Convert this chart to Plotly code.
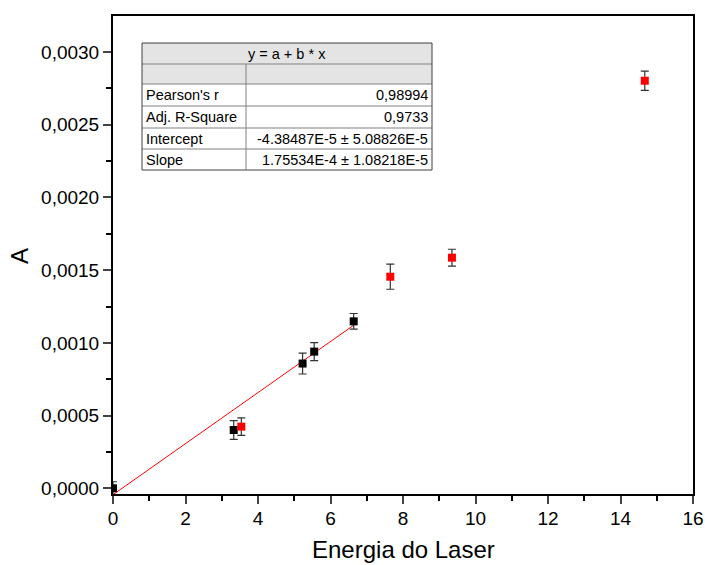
import plotly.graph_objects as go

# ---- data ----
x_black = [0.0, 3.33, 5.23, 5.55, 6.64]
y_black = [0.0000, 0.000401, 0.000858, 0.000940, 0.001148]
e_black = [0.000045, 0.000064, 0.000072, 0.000062, 0.000054]

x_red = [3.54, 7.65, 9.35, 14.67]
y_red = [0.000424, 0.001455, 0.001586, 0.002803]
e_red = [0.000060, 0.000086, 0.000058, 0.000066]

fit_intercept = -4.38487e-5
fit_slope = 1.75534e-4

x_title = "Energia do Laser"
y_title = "A"
table_title = "y = a + b * x"
table_labels = ["Pearson's r", "Adj. R-Square", "Intercept", "Slope"]
table_values = ["0,98994", "0,9733", "-4.38487E-5 ± 5.08826E-5", "1.75534E-4 ± 1.08218E-5"]

x_ticks = list(range(0, 17, 2))
y_ticks = [0.0, 0.0005, 0.0010, 0.0015, 0.0020, 0.0025, 0.0030]

FONT = "Liberation Sans, Arial, sans-serif"

fig = go.Figure()

# fit line over the range of the fitted (black) points
fx = [min(x_black), max(x_black)]
fy = [fit_intercept + fit_slope * v for v in fx]
fig.add_trace(go.Scatter(x=fx, y=fy, mode="lines",
                         line=dict(color="#ff0000", width=1), showlegend=False,
                         hoverinfo="skip"))

err_style = dict(type="data", thickness=1.2, width=4, color="#333333")
fig.add_trace(go.Scatter(x=x_black, y=y_black, mode="markers",
                         marker=dict(symbol="square", size=8, color="black"),
                         error_y=dict(array=e_black, **err_style), showlegend=False))
fig.add_trace(go.Scatter(x=x_red, y=y_red, mode="markers",
                         marker=dict(symbol="square", size=8, color="#ff0000"),
                         error_y=dict(array=e_red, **err_style), showlegend=False))

# ---- layout geometry ----
L, R, T, B = 113, 12, 16, 71
W, H = 705, 565
pw, ph = W - L - R, H - T - B

def px(x):
    return (x - L) / pw

def py(y):
    return (H - B - y) / ph

shapes = []
annotations = []

tx0, tx1, tcol = 142, 432, 246
rows_y = [43, 64, 84, 106, 128, 149, 170]
grey = "#e4e4e4"
border = "#808080"

shapes.append(dict(type="rect", xref="paper", yref="paper",
                   x0=px(tx0), x1=px(tx1), y0=py(rows_y[2]), y1=py(rows_y[0]),
                   fillcolor=grey, line=dict(width=0), layer="above"))
shapes.append(dict(type="rect", xref="paper", yref="paper",
                   x0=px(tx0), x1=px(tx1), y0=py(rows_y[-1]), y1=py(rows_y[2]),
                   fillcolor="white", line=dict(width=0), layer="above"))
for i, yy in enumerate(rows_y):
    shapes.append(dict(type="line", xref="paper", yref="paper",
                       x0=px(tx0), x1=px(tx1), y0=py(yy), y1=py(yy),
                       line=dict(color=border if 0 < i < len(rows_y) - 1 else "#404040", width=1),
                       layer="above"))
for xx in [tx0, tx1]:
    shapes.append(dict(type="line", xref="paper", yref="paper",
                       x0=px(xx), x1=px(xx), y0=py(rows_y[-1]), y1=py(rows_y[0]),
                       line=dict(color="#404040", width=1), layer="above"))
shapes.append(dict(type="line", xref="paper", yref="paper",
                   x0=px(tcol), x1=px(tcol), y0=py(rows_y[-1]), y1=py(rows_y[1]),
                   line=dict(color=border, width=1), layer="above"))

TFS = 14.5
annotations.append(dict(xref="paper", yref="paper", x=px((tx0 + tx1) / 2),
                        y=py((rows_y[0] + rows_y[1]) / 2), text=table_title,
                        showarrow=False, xanchor="center", yanchor="middle",
                        font=dict(family=FONT, size=TFS, color="black")))
for i, (lab, val) in enumerate(zip(table_labels, table_values)):
    yc = py((rows_y[2 + i] + rows_y[3 + i]) / 2)
    annotations.append(dict(xref="paper", yref="paper", x=px(tx0 + 2), y=yc, text=lab,
                            showarrow=False, xanchor="left", yanchor="middle",
                            font=dict(family=FONT, size=TFS, color="black")))
    annotations.append(dict(xref="paper", yref="paper", x=px(tx1 - 2), y=yc, text=val,
                            showarrow=False, xanchor="right", yanchor="middle",
                            font=dict(family=FONT, size=TFS, color="black")))

# axis titles
annotations.append(dict(xref="paper", yref="paper", x=0.5, y=py(549), text=x_title,
                        showarrow=False, xanchor="center", yanchor="middle",
                        font=dict(family=FONT, size=24, color="black")))
annotations.append(dict(xref="paper", yref="paper", x=px(19), y=py(256), text=y_title,
                        showarrow=False, xanchor="center", yanchor="middle", textangle=-90,
                        font=dict(family=FONT, size=24, color="black")))

fig.update_layout(
    width=W, height=H,
    margin=dict(l=L, r=R, t=T, b=B),
    paper_bgcolor="white", plot_bgcolor="white",
    separators=",.",
    font=dict(family=FONT, size=19, color="black"),
    shapes=shapes, annotations=annotations,
    showlegend=False,
)
fig.update_xaxes(range=[0, 16], tickvals=x_ticks, ticks="outside", ticklen=8, tickwidth=2,
                 showline=True, linewidth=2, linecolor="black", mirror=True,
                 showgrid=False, zeroline=False, automargin=False,
                 minor=dict(dtick=1, ticks="outside", ticklen=5, tickwidth=2, tickcolor="black"),
                 tickfont=dict(size=19), ticklabelstandoff=-2)
fig.update_yaxes(range=[-0.0000392, 0.003248], tickvals=y_ticks, tickformat=".4f",
                 ticks="outside", ticklen=8, tickwidth=2,
                 showline=True, linewidth=2, linecolor="black", mirror=True,
                 showgrid=False, zeroline=False, automargin=False,
                 minor=dict(tickvals=[0.00025, 0.00075, 0.00125, 0.00175, 0.00225, 0.00275, 0.00325],
                            ticks="outside", ticklen=5, tickwidth=2, tickcolor="black"),
                 tickfont=dict(size=19))

fig.write_html("out.html")
